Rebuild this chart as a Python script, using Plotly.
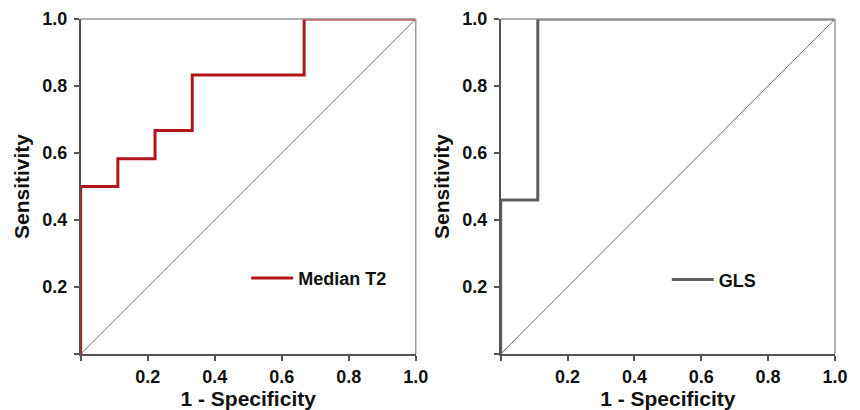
import plotly.graph_objects as go

# ROC data
t2_fpr = [0, 0, 0.111, 0.111, 0.222, 0.222, 0.333, 0.333, 0.667, 0.667, 1.0]
t2_tpr = [0, 0.5, 0.5, 0.583, 0.583, 0.667, 0.667, 0.833, 0.833, 1.0, 1.0]
gls_fpr = [0, 0, 0.111, 0.111, 1.0]
gls_tpr = [0, 0.46, 0.46, 1.0, 1.0]
ref_x = [0, 1]
ref_y = [0, 1]
tick_vals = [0, 0.2, 0.4, 0.6, 0.8, 1.0]
tick_text = ["", "0.2", "0.4", "0.6", "0.8", "1.0"]

RED = "#b3131b"
GRAY = "#5f5f5f"
FONT = "Liberation Sans, Arial, sans-serif"

fig = go.Figure()
fig.add_trace(go.Scatter(x=ref_x, y=ref_y, mode="lines", line=dict(color="#707070", width=1),
                         showlegend=False, xaxis="x", yaxis="y", hoverinfo="skip"))
fig.add_trace(go.Scatter(x=t2_fpr, y=t2_tpr, mode="lines", name="Median T2",
                         line=dict(color=RED, width=3), xaxis="x", yaxis="y", legend="legend"))
fig.add_trace(go.Scatter(x=ref_x, y=ref_y, mode="lines", line=dict(color="#707070", width=1),
                         showlegend=False, xaxis="x2", yaxis="y2", hoverinfo="skip"))
fig.add_trace(go.Scatter(x=gls_fpr, y=gls_tpr, mode="lines", name="GLS",
                         line=dict(color=GRAY, width=3), xaxis="x2", yaxis="y2", legend="legend2"))

def axis(**kw):
    d = dict(range=[0, 1], tickvals=tick_vals, ticktext=tick_text, showgrid=False,
             zeroline=False, showline=True, linecolor="#555555", linewidth=1.5,
             ticks="outside", ticklen=5, tickwidth=1.5, tickcolor="#555555", automargin=False,
             tickfont=dict(family=FONT, size=18, color="#111111", weight="bold"))
    d.update(kw)
    return d

xtitle = dict(text="1 - Specificity", standoff=0, font=dict(family=FONT, size=21, color="#111111", weight="bold"))
ytitle = dict(text="Sensitivity", standoff=7, font=dict(family=FONT, size=21, color="#111111", weight="bold"))

ydom = [0.1561, 0.9732]
fig.update_layout(
    width=860, height=410, margin=dict(l=0, r=0, t=0, b=0),
    paper_bgcolor="white", plot_bgcolor="white",
    xaxis=axis(domain=[0.0845, 0.4741], anchor="y", title=xtitle, ticklabelstandoff=1),
    yaxis=axis(domain=ydom, anchor="x", title=ytitle, ticklabelstandoff=3),
    xaxis2=axis(domain=[0.5729, 0.9616], anchor="y2", title=xtitle, ticklabelstandoff=1),
    yaxis2=axis(domain=ydom, anchor="x2", title=ytitle, ticklabelstandoff=3),
    legend=dict(x=0.277, y=0.341, xanchor="left", yanchor="middle", bgcolor="rgba(0,0,0,0)",
                itemwidth=42, font=dict(family=FONT, size=18, color="#111111", weight="bold")),
    legend2=dict(x=0.766, y=0.337, xanchor="left", yanchor="middle", bgcolor="rgba(0,0,0,0)",
                 itemwidth=42, font=dict(family=FONT, size=18, color="#111111", weight="bold")),
)

# top and right frame lines
for xr, yr in [("x domain", "y domain"), ("x2 domain", "y2 domain")]:
    fig.add_shape(type="line", xref=xr, yref=yr, x0=0, x1=1, y0=1, y1=1, line=dict(color="#999999", width=1.5))
    fig.add_shape(type="line", xref=xr, yref=yr, x0=1, x1=1, y0=0, y1=1, line=dict(color="#999999", width=1.5))

fig.write_html("out.html")
